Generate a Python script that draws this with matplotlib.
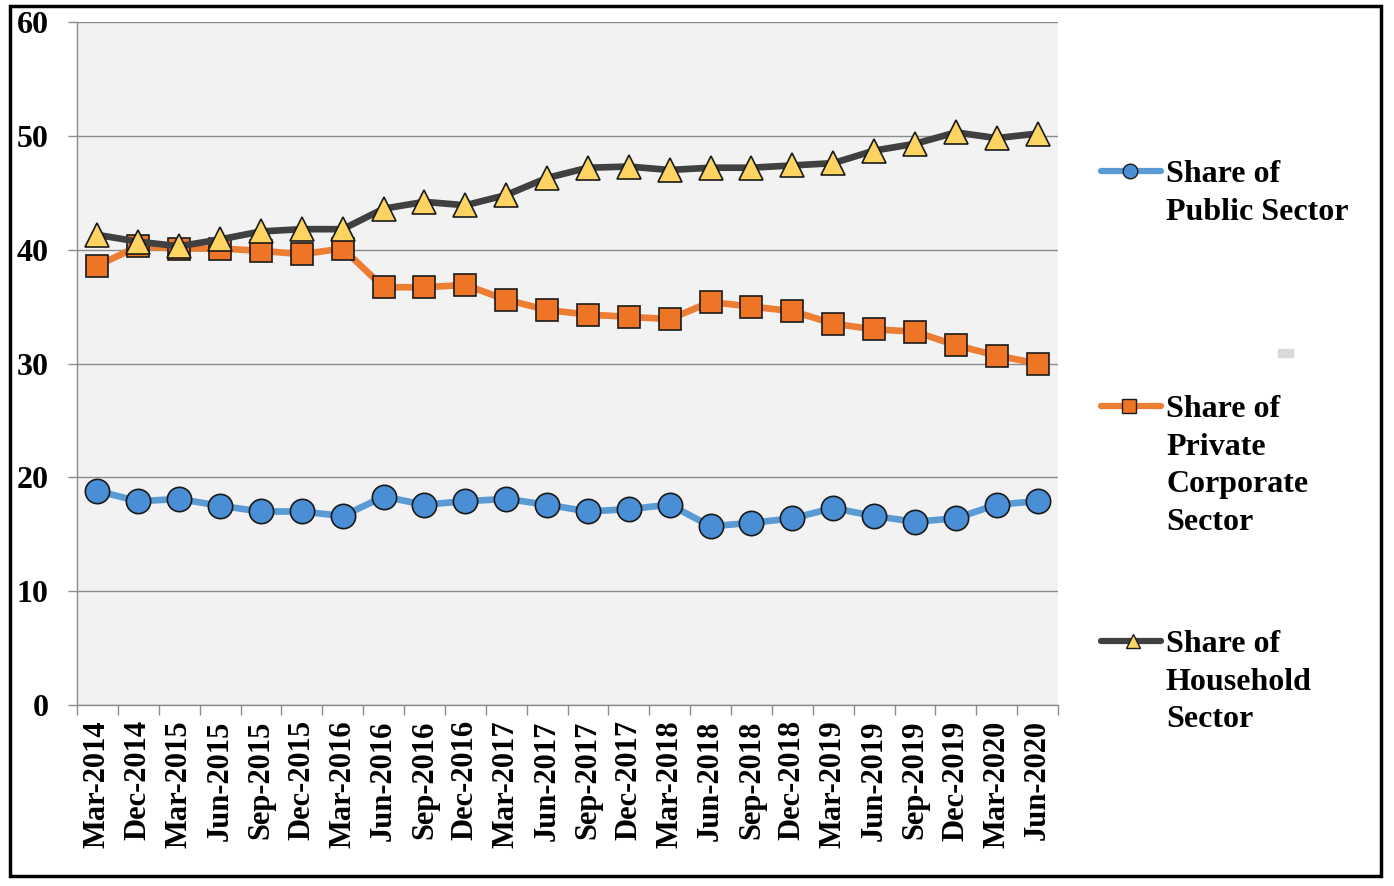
import numpy as np
import matplotlib
matplotlib.use("Agg")
import matplotlib.pyplot as plt
from matplotlib.lines import Line2D
from matplotlib.patches import Rectangle

# Quarter labels
quarters = ["Mar-2014", "Dec-2014", "Mar-2015", "Jun-2015", "Sep-2015", "Dec-2015",
            "Mar-2016", "Jun-2016", "Sep-2016", "Dec-2016", "Mar-2017", "Jun-2017",
            "Sep-2017", "Dec-2017", "Mar-2018", "Jun-2018", "Sep-2018", "Dec-2018",
            "Mar-2019", "Jun-2019", "Sep-2019", "Dec-2019", "Mar-2020", "Jun-2020"]

# Shares (%)
public_share = [18.8, 17.9, 18.1, 17.5, 17.0, 17.0, 16.6, 18.3, 17.6, 17.9, 18.1, 17.6,
                17.0, 17.2, 17.6, 15.7, 16.0, 16.4, 17.3, 16.6, 16.1, 16.4, 17.6, 17.9]
private_share = [38.6, 40.3, 40.1, 40.1, 39.9, 39.6, 40.1, 36.7, 36.7, 36.9, 35.6, 34.7,
                 34.3, 34.1, 33.9, 35.4, 35.0, 34.6, 33.5, 33.0, 32.8, 31.6, 30.7, 30.0]
household_share = [41.3, 40.7, 40.3, 40.9, 41.6, 41.8, 41.8, 43.6, 44.2, 43.9, 44.8, 46.3,
                   47.2, 47.3, 47.0, 47.2, 47.2, 47.4, 47.6, 48.7, 49.3, 50.3, 49.8, 50.2]

series_labels = ["Share of\nPublic Sector",
                 "Share of\nPrivate\nCorporate\nSector",
                 "Share of\nHousehold\nSector"]

plt.rcParams["font.family"] = ["Liberation Serif", "DejaVu Serif"]
plt.rcParams["font.weight"] = "bold"

W, H = 1394, 886
fig = plt.figure(figsize=(W / 100, H / 100), dpi=100)
ax = fig.add_axes([77 / W, 1 - 705 / H, (1058 - 77) / W, (705 - 22) / H])
ax.set_facecolor("#f2f2f2")

x = np.arange(len(quarters))

styles = [
    dict(color="#5b9bd5", marker="o", mfc="#4a8ed6", ms=17.5),
    dict(color="#ed7d31", marker="s", mfc="#ee7426", ms=16),
    dict(color="#404040", marker="^", mfc="#fdd462", ms=17.5),
]
for vals, st in zip([public_share, private_share, household_share], styles):
    ax.plot(x, vals, color=st["color"], lw=4.8, marker=st["marker"], ms=st["ms"],
            mfc=st["mfc"], mec="#1a1a1a", mew=1.2, zorder=3)

ax.set_xlim(-0.5, len(quarters) - 0.5)
ax.set_ylim(0, 60)
ax.set_yticks(np.arange(0, 61, 10))
ax.grid(axis="y", color="#8c8c8c", lw=1.0)
ax.set_axisbelow(True)

ax.set_xticks(x)
ax.set_xticklabels(quarters, rotation=90, fontsize=22, fontweight="bold")
ax.set_xticks(np.arange(-0.5, len(quarters), 1), minor=True)
ax.tick_params(axis="x", which="major", length=0, pad=11)
ax.tick_params(axis="x", which="minor", length=7, color="#8c8c8c", width=1)
ax.tick_params(axis="y", length=6.5, color="#8c8c8c", width=1, pad=14, labelsize=23)

for s in ["top", "right"]:
    ax.spines[s].set_visible(False)
for s in ["left", "bottom"]:
    ax.spines[s].set_color("#8c8c8c")
    ax.spines[s].set_linewidth(1)

# legend drawn in figure pixels
legend_y = [171, 406, 641]
legend_marker_x = [1130, 1129, 1133]
for lab, st, ly, mx in zip(series_labels, styles, legend_y, legend_marker_x):
    yy = 1 - ly / H
    fig.add_artist(Line2D([1101 / W, 1161 / W], [yy, yy], color=st["color"], lw=4.5,
                          solid_capstyle="round", transform=fig.transFigure))
    fig.add_artist(Line2D([mx / W], [yy], marker=st["marker"], ms=st["ms"] * 0.6,
                          mfc=st["mfc"], mec="#1a1a1a", mew=1.0, transform=fig.transFigure))
    fig.text(1166 / W, 1 - (ly - 11) / H, lab, fontsize=23, fontweight="bold",
             va="top", ha="left", linespacing=1.39)

# stray grey marker on the right
fig.add_artist(Rectangle((1278 / W, 1 - 357 / H), 15 / W, 8 / H, color="#d9d9d9",
                         transform=fig.transFigure))

# outer frame
fig.add_artist(Rectangle((10 / W, 1 - 876 / H), 1371 / W, 870 / H, fill=False,
                         ec="black", lw=2.5, transform=fig.transFigure))

fig.savefig("out.png", dpi=100)
